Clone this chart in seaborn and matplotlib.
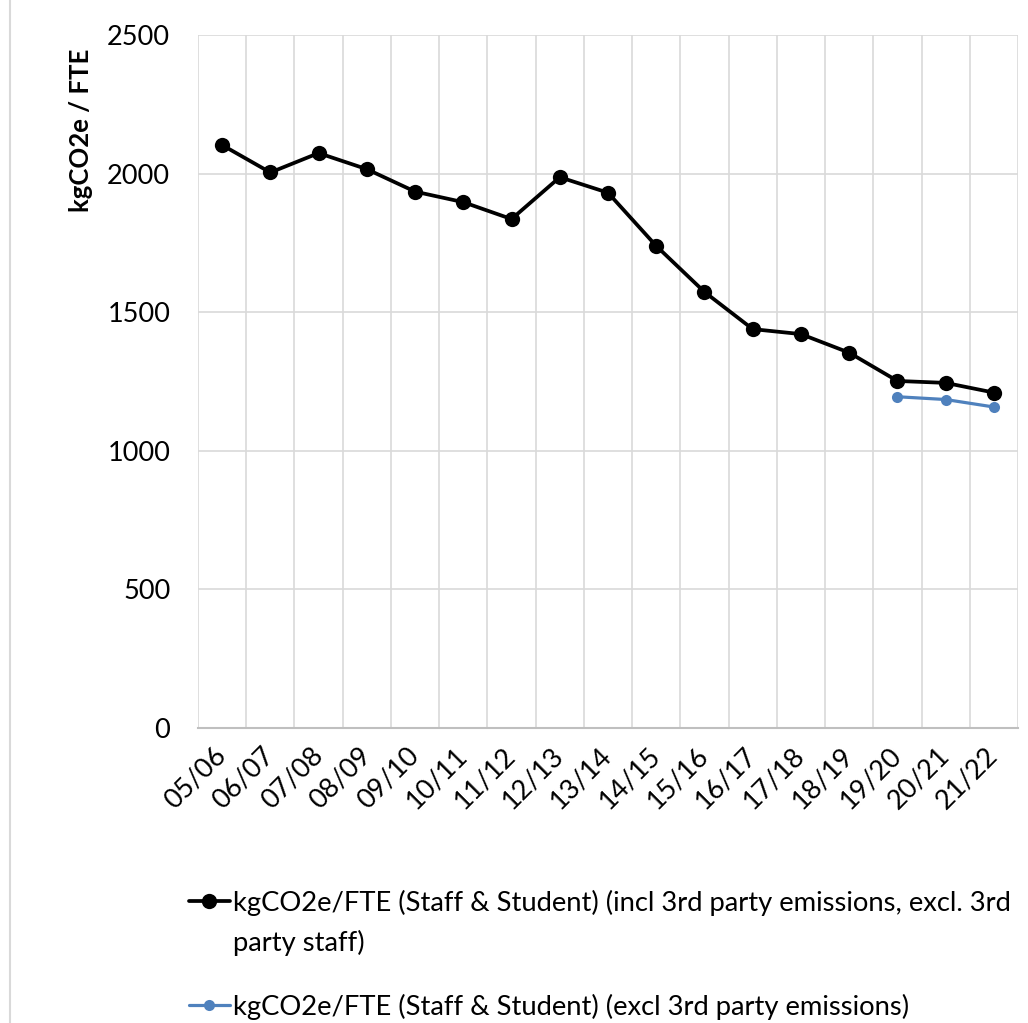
import matplotlib
matplotlib.use("Agg")
import matplotlib.pyplot as plt
from matplotlib.lines import Line2D
import numpy as np
import pandas as pd
import seaborn as sns

years = ["05/06", "06/07", "07/08", "08/09", "09/10", "10/11", "11/12", "12/13",
         "13/14", "14/15", "15/16", "16/17", "17/18", "18/19", "19/20", "20/21", "21/22"]
incl_3rd_party = [2103, 2004, 2074, 2016, 1935, 1897, 1836, 1987,
                  1931, 1739, 1573, 1439, 1421, 1354, 1252, 1245, 1210]
excl_3rd_party_years = ["19/20", "20/21", "21/22"]
excl_3rd_party = [1195, 1185, 1158]

label_incl_1 = "kgCO2e/FTE (Staff & Student) (incl 3rd party emissions, excl. 3rd"
label_incl_2 = "party staff)"
label_excl = "kgCO2e/FTE (Staff & Student) (excl 3rd party emissions)"

sns.set_theme(style="white")
plt.rcParams["font.family"] = ["Lato", "DejaVu Sans"]
plt.rcParams["text.color"] = "black"
plt.rcParams["xtick.color"] = "black"
plt.rcParams["ytick.color"] = "black"
plt.rcParams["axes.labelcolor"] = "black"

df_incl = pd.DataFrame({"pos": np.arange(len(years)), "value": incl_3rd_party})
df_excl = pd.DataFrame({"pos": [years.index(y) for y in excl_3rd_party_years],
                        "value": excl_3rd_party})

fig = plt.figure(figsize=(10.28, 10.23), dpi=100)
ax = fig.add_axes([198 / 1028, 1 - 728 / 1023, 820 / 1028, 693 / 1023])

black_style = dict(color="black", linewidth=2.7, marker="o", markersize=11,
                   markeredgewidth=0)
blue_style = dict(color="#4f81bd", linewidth=2.3, marker="o", markersize=8,
                  markeredgewidth=0)

sns.lineplot(data=df_incl, x="pos", y="value", ax=ax, legend=False, **black_style)
sns.lineplot(data=df_excl, x="pos", y="value", ax=ax, legend=False, **blue_style)

ax.set_xlim(-0.5, len(years) - 0.5)
ax.set_ylim(0, 2500)
ax.set_yticks(np.arange(0, 2501, 500))
ax.set_xticks(np.arange(len(years)))
ax.set_xticklabels(years, rotation=45, ha="right", va="center",
                   rotation_mode="anchor")
ax.tick_params(axis="x", labelsize=19.5, pad=17, length=0)
ax.tick_params(axis="y", labelsize=19.5, pad=20, length=0)

# grid: horizontal at ticks, vertical at category boundaries
for yv in np.arange(500, 2501, 500):
    ax.axhline(yv, color="#d9d9d9", linewidth=1.2, zorder=0)
for xv in np.arange(-0.5, len(years), 1.0):
    ax.axvline(xv, color="#d9d9d9", linewidth=1.2, zorder=0)

for side in ["top", "right", "left"]:
    ax.spines[side].set_visible(False)
ax.spines["bottom"].set_color("#bfbfbf")
ax.spines["bottom"].set_linewidth(1.5)

ax.set_xlabel("")
ax.set_ylabel("kgCO2e / FTE", fontsize=18.5, fontweight="bold")
ax.yaxis.set_label_coords(-0.128, 0.862)

# legend: first entry wraps over two lines, handle beside the first line
h_black = Line2D([], [], **black_style)
h_blank = Line2D([], [], alpha=0)
h_blue = Line2D([], [], **blue_style)
leg_kw = dict(bbox_transform=fig.transFigure, frameon=False, fontsize=19.7,
              handlelength=1.5, handletextpad=0.1, borderaxespad=0,
              loc="upper left")
leg1 = ax.legend([h_black, h_blank], [label_incl_1, label_incl_2],
                 bbox_to_anchor=(178 / 1028, 1 - 879 / 1023),
                 labelspacing=0.5, **leg_kw)
ax.add_artist(leg1)
ax.legend([h_blue], [label_excl], bbox_to_anchor=(178 / 1028, 1 - 983 / 1023),
          **leg_kw)

# chart frame edge on the left
fig.add_artist(Line2D([10 / 1028, 10 / 1028], [0, 1], color="#d9d9d9",
                      linewidth=1.5, transform=fig.transFigure))

fig.savefig("out.png", dpi=100, facecolor="white")
